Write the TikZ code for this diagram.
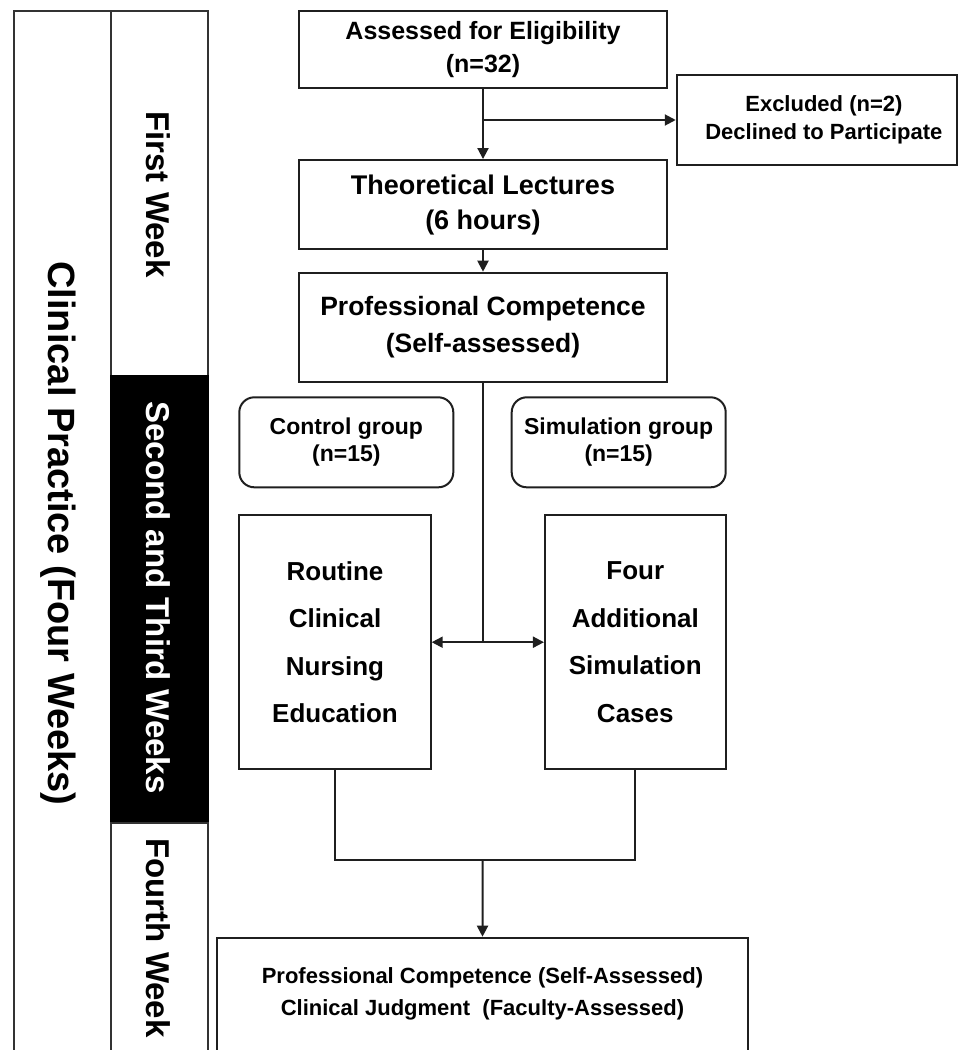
\documentclass[tikz,border=0pt]{standalone}
\usepackage{fontspec}
\setmainfont{Liberation Sans}
\usetikzlibrary{arrows.meta}
\begin{document}
\begin{tikzpicture}[x=1pt,y=-1pt,
  ln/.style={line width=2pt, draw=black!88},
  cell/.style={draw=black!80, line width=1.5pt, inner sep=0pt, minimum width=97pt, anchor=north west},
  box/.style={draw=black!88, line width=2pt, align=center, inner sep=0pt, text=black},
  grp/.style={box, rounded corners=15pt},
  tip/.tip={Triangle[length=11pt,width=11pt]},
  arr/.style={ln, -tip},
  darr/.style={ln, tip-tip},
  vlabel/.style={rotate=-90, anchor=base, inner sep=0pt, font=\fontsize{33}{36}\selectfont\bfseries},
]
\useasboundingbox (0,0) rectangle (959,1050);
\clip (0,0) rectangle (959,1050);

% left columns
\node[cell, minimum height=1060pt] (practice) at (13,10) {};
\node[cell, minimum height=365pt] (week1) at (110,10) {};
\node[cell, minimum height=447pt, fill=black, draw=black] (week23) at (110,375) {};
\node[cell, minimum height=248pt] (week4) at (110,822) {};

\node[rotate=-90, anchor=base, inner sep=0pt, font=\fontsize{38}{40}\selectfont\bfseries] (tpractice) at (48.5,533.5) {Clinical Practice (Four Weeks)};
\node[vlabel] (tweek1) at (146.7,194.5) {First Week};
\node[vlabel, text=white] (tweek23) at (146.7,597.5) {Second and Third Weeks};
\node[vlabel] (tweek4) at (146.7,938) {Fourth Week};

% flow boxes
\node[box, minimum width=367.4pt, minimum height=77.3pt, font=\fontsize{25}{32.7}\selectfont\bfseries] (assess) at (483,49.7) {Assessed for Eligibility\\(n=32)};
\node[box, minimum width=280.3pt, minimum height=90pt, font=\fontsize{22}{27.7}\selectfont\bfseries] (excl) at (816.9,120) {\hspace*{14pt}Excluded (n=2)\\\hspace*{14pt}Declined to Participate};
\node[box, minimum width=367.4pt, minimum height=89.3pt, font=\fontsize{27}{35}\selectfont\bfseries] (theory) at (483,204.7) {Theoretical Lectures\\(6 hours)};
\node[box, minimum width=367.4pt, minimum height=109pt, font=\fontsize{26.5}{37.7}\selectfont\bfseries] (prof) at (483,327.2) {Professional Competence\\(Self-assessed)};

\node[grp, minimum width=214pt, minimum height=90pt, font=\fontsize{23}{27.3}\selectfont\bfseries] (control) at (346.3,442.3) {Control group\\(n=15)};
\node[grp, minimum width=214pt, minimum height=90pt, font=\fontsize{23}{27.3}\selectfont\bfseries] (sim) at (618.7,442.3) {Simulation group\\(n=15)};

\node[box, minimum width=191.4pt, minimum height=254.3pt, font=\fontsize{26}{47.4}\selectfont\bfseries] (routine) at (335,642.2) {Routine\\Clinical\\Nursing\\Education};
\node[box, minimum width=180.7pt, minimum height=254.3pt, font=\fontsize{26}{47.4}\selectfont\bfseries] (four) at (635.3,642.2) {Four\\Additional\\Simulation\\Cases};

\node[box, minimum width=531pt, minimum height=140pt, anchor=north] (outcome) at (482.5,936.7) {};
\node[anchor=north, inner sep=0pt, align=center, font=\fontsize{22}{32.7}\selectfont\bfseries] (outtext) at (482.5,967) {Professional Competence (Self-Assessed)\\Clinical Judgment\ \ (Faculty-Assessed)};

% connectors
\draw[arr] (assess.south) -- (theory.north);
\draw[arr] (assess.south |- excl.west) -- (excl.west);
\draw[arr] (theory.south) -- (prof.north);
\coordinate (split) at (prof.south |- routine.east);
\draw[ln] (prof.south) -- (split);
\draw[darr] (routine.east) -- (four.west);
\coordinate (merge) at (482.7,860);
\draw[ln] (routine.south) |- (merge) -| (four.south);
\draw[arr] (merge) -- (outcome.north);
\end{tikzpicture}
\end{document}
